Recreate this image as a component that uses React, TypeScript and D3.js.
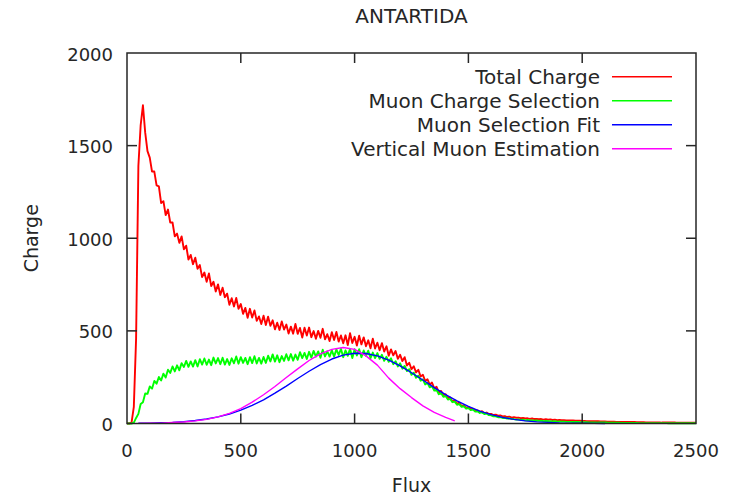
import React, { useEffect, useRef } from "react";
import * as d3 from "d3";

// Charge vs flux, gnuplot look

const BIN = 10; // flux bin width of the measured histograms

// total charge, one value per bin starting at flux 0
const totalCharge = [
  0, 0, 5, 90, 460, 1390, 1610, 1718, 1570, 1470,
  1435, 1360, 1360, 1285, 1280, 1190, 1200, 1125, 1155, 1085,
  1085, 1010, 1025, 975, 1010, 940, 960, 885, 910, 860,
  895, 835, 855, 790, 815, 765, 810, 742, 765, 713,
  751, 694, 733, 682, 701, 641, 676, 632, 678, 619,
  645, 592, 624, 571, 619, 572, 610, 554, 578, 537,
  582, 532, 577, 527, 557, 508, 544, 505, 551, 507,
  534, 486, 523, 485, 537, 484, 516, 464, 517, 475,
  518, 466, 499, 457, 500, 463, 511, 454, 482, 445,
  493, 451, 494, 442, 475, 433, 476, 424, 487, 435,
  468, 421, 474, 427, 465, 417, 449, 406, 458, 405,
  436, 395, 434, 388, 417, 366, 400, 368, 391, 349,
  371, 337, 358, 313, 328, 293, 309, 276, 290, 254,
  263, 230, 239, 210, 221, 190, 198, 168, 176, 151,
  158, 136, 141, 118, 125, 107, 112, 94, 99, 84,
  89, 76, 80, 68, 71, 62, 66, 56, 59, 51,
  52, 46, 48, 42, 44, 38, 40, 35, 37, 32,
  34, 31, 32, 29, 30, 27, 28, 25, 27, 24,
  25, 23, 24, 21, 23, 20, 22, 19, 21, 18,
  19, 18, 18, 17, 17, 16, 16, 15, 15, 15,
  14, 14, 13, 13, 13, 12, 12, 12, 11, 11,
  11, 10, 10, 10, 10, 9, 9, 9, 9, 8,
  8, 8, 8, 8, 7, 7, 7, 7, 6, 6,
  6, 6, 6, 6, 6, 5, 5, 5, 5, 5,
  5, 5, 4, 4, 4, 4, 4, 4, 4, 4,
  4,
];

// muon charge selection, same bins
const muonCharge = [
  0, 0, 0, 5, 30, 52, 105, 115, 162, 160,
  200, 188, 230, 215, 251, 232, 269, 248, 290, 273,
  308, 281, 314, 287, 326, 305, 338, 306, 335, 307,
  342, 308, 347, 318, 351, 317, 345, 315, 356, 324,
  353, 320, 355, 318, 348, 316, 352, 325, 362, 323,
  358, 327, 354, 320, 358, 326, 363, 324, 354, 323,
  359, 327, 366, 335, 373, 334, 368, 331, 364, 338,
  374, 341, 375, 339, 372, 344, 385, 353, 381, 348,
  387, 355, 392, 361, 389, 355, 398, 362, 390, 361,
  395, 361, 400, 370, 403, 358, 395, 365, 403, 353,
  401, 367, 401, 358, 394, 365, 393, 353, 383, 353,
  380, 349, 371, 338, 360, 333, 352, 320, 336, 308,
  325, 296, 311, 283, 293, 263, 274, 247, 258, 231,
  238, 211, 219, 195, 201, 178, 182, 158, 164, 144,
  148, 129, 133, 115, 118, 101, 105, 90, 93, 80,
  83, 72, 75, 64, 66, 57, 60, 51, 54, 45,
  44, 39, 39, 34, 34, 30, 31, 27, 28, 24,
  24, 21, 22, 19, 20, 17, 19, 16, 17, 15,
  16, 14, 15, 13, 14, 12, 13, 11, 12, 10,
  11, 10, 10, 9, 9, 9, 8, 8, 8, 7,
  7, 7, 7, 6, 6, 6, 6, 5, 5, 5,
  5, 5, 4, 4, 4, 4, 4, 3, 3, 3,
  3, 3, 3, 3, 3, 2, 2, 2, 2, 2,
  2, 2, 2, 2, 2, 2, 2, 2, 1, 1,
  1, 1, 1, 1, 1, 1, 1, 1, 1, 1,
  1,
];

const fitFlux = [
  50, 100, 150, 200, 250, 300, 350, 400, 450, 500,
  550, 600, 650, 700, 750, 800, 850, 900, 950, 1000,
  1050, 1100, 1150, 1200, 1250, 1300, 1350, 1400, 1450, 1500,
  1550, 1600, 1650, 1700, 1750, 1800, 1850, 1900, 1950, 2000,
  2050, 2100,
];
const muonFit = [
  1, 2, 4, 6, 10, 16, 24, 36, 51, 72,
  98, 128, 164, 202, 243, 282, 318, 348, 369, 379,
  378, 365, 342, 311, 274, 235, 194, 156, 122, 92,
  67, 48, 33, 22, 14, 9, 6, 3, 2, 1,
  0.5, 0,
];

const vertFlux = [
  50, 100, 150, 200, 250, 300, 350, 400, 450, 500,
  550, 600, 650, 700, 750, 800, 850, 900, 950, 1000,
  1050, 1100, 1150, 1200, 1250, 1300, 1350, 1400, 1440,
];
const verticalMuon = [
  0.5, 1, 2, 5, 8, 14, 22, 36, 55, 80,
  115, 155, 200, 248, 295, 340, 376, 400, 410, 400,
  365, 315, 245, 188, 140, 95, 60, 33, 14,
];

const xTicks = [0, 500, 1000, 1500, 2000, 2500];
const yTicks = [0, 500, 1000, 1500, 2000];
const legendLabels = ["Total Charge", "Muon Charge Selection", "Muon Selection Fit", "Vertical Muon Estimation"];
const colors = ["#ff0000", "#00ff00", "#0000ff", "#ff00ff"];
const widths = [1.9, 1.9, 1.4, 1.4];

const W = 732, H = 497;
const margin = { top: 53, right: 36, bottom: 73.5, left: 127 };
const FONT = "'DejaVu Sans', Verdana, sans-serif";
const INK = "#262626";

export default function App() {
  const ref = useRef<SVGSVGElement>(null);

  useEffect(() => {
    document.body.style.margin = "0";
    const w = W - margin.left - margin.right;
    const h = H - margin.top - margin.bottom;

    const svg = d3.select(ref.current);
    svg.selectAll("*").remove();
    svg.append("rect").attr("width", W).attr("height", H).attr("fill", "#fff");
    const g = svg.append("g").attr("transform", `translate(${margin.left}, ${margin.top})`);

    const x = d3.scaleLinear().domain([0, 2500]).range([0, w]);
    const y = d3.scaleLinear().domain([0, 2000]).range([h, 0]);

    // series
    const binned = (vals: number[]) => vals.map((v, i) => [i * BIN, v] as [number, number]);
    const paired = (xs: number[], ys: number[]) => xs.map((v, i) => [v, ys[i]] as [number, number]);
    const line = d3.line<[number, number]>().x(d => x(d[0])).y(d => y(d[1]));
    const series = [binned(totalCharge), binned(muonCharge), paired(fitFlux, muonFit), paired(vertFlux, verticalMuon)];

    g.selectAll("path.series")
      .data(series)
      .join("path")
      .attr("class", "series")
      .attr("d", d => line(d))
      .attr("fill", "none")
      .attr("stroke", (d, i) => colors[i])
      .attr("stroke-width", (d, i) => widths[i])
      .attr("stroke-linejoin", "round");

    // border + inward ticks on all four sides
    g.append("rect").attr("width", w).attr("height", h)
      .attr("fill", "none").attr("stroke", INK).attr("stroke-width", 1.5);
    const tl = 10;
    xTicks.slice(1, -1).forEach(t => {
      g.append("line").attr("x1", x(t)).attr("x2", x(t)).attr("y1", h).attr("y2", h - tl).attr("stroke", INK).attr("stroke-width", 1.5);
      g.append("line").attr("x1", x(t)).attr("x2", x(t)).attr("y1", 0).attr("y2", tl).attr("stroke", INK).attr("stroke-width", 1.5);
    });
    yTicks.slice(1, -1).forEach(t => {
      g.append("line").attr("x1", 0).attr("x2", tl).attr("y1", y(t)).attr("y2", y(t)).attr("stroke", INK).attr("stroke-width", 1.5);
      g.append("line").attr("x1", w).attr("x2", w - tl).attr("y1", y(t)).attr("y2", y(t)).attr("stroke", INK).attr("stroke-width", 1.5);
    });

    // tick labels
    g.selectAll(".xlab").data(xTicks).join("text").attr("class", "xlab")
      .attr("x", d => x(d)).attr("y", h + 33)
      .attr("text-anchor", "middle")
      .style("font-family", FONT).style("font-size", "18px").attr("fill", INK)
      .text(d => d);
    g.selectAll(".ylab").data(yTicks).join("text").attr("class", "ylab")
      .attr("x", -14).attr("y", d => y(d) + 7.5)
      .attr("text-anchor", "end")
      .style("font-family", FONT).style("font-size", "18px").attr("fill", INK)
      .text(d => d);

    // title and axis labels
    svg.append("text").attr("x", margin.left + w / 2).attr("y", 23)
      .attr("text-anchor", "middle").style("font-family", FONT).style("font-size", "20px").attr("fill", INK)
      .text("ANTARTIDA");
    svg.append("text").attr("x", margin.left + w / 2).attr("y", 492)
      .attr("text-anchor", "middle").style("font-family", FONT).style("font-size", "19px").attr("fill", INK)
      .text("Flux");
    svg.append("text")
      .attr("transform", `translate(38, ${margin.top + h / 2}) rotate(-90)`)
      .attr("text-anchor", "middle").style("font-family", FONT).style("font-size", "19px").attr("fill", INK)
      .text("Charge");

    // legend
    const leg = svg.append("g");
    legendLabels.forEach((lab, i) => {
      const cy = 76.7 + i * 24;
      leg.append("text").attr("x", 600).attr("y", cy + 7.5)
        .attr("text-anchor", "end").style("font-family", FONT).style("font-size", "20px").attr("fill", INK)
        .text(lab);
      leg.append("line").attr("x1", 612).attr("x2", 672).attr("y1", cy).attr("y2", cy)
        .attr("stroke", colors[i]).attr("stroke-width", 1.4);
    });
  }, []);

  return <svg ref={ref} width={W} height={H} style={{ display: "block" }}></svg>;
}
